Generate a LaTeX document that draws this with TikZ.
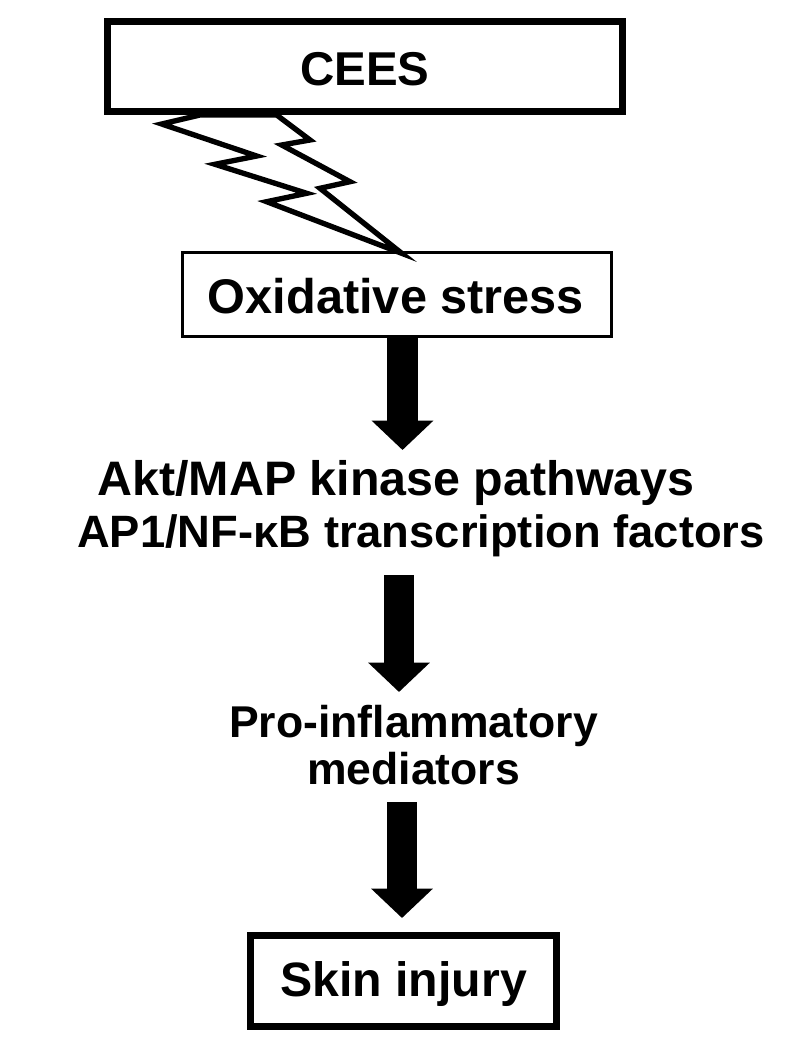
\documentclass[tikz,border=0pt]{standalone}
\usepackage{fontspec}
\setmainfont{Liberation Sans}
\usetikzlibrary{arrows.meta}
\begin{document}
\begin{tikzpicture}[x=0.75pt,y=-0.75pt,
  thickbox/.style={draw=black,line width=5.25pt,fill=white,inner sep=0pt},
  thinbox/.style={draw=black,line width=2pt,fill=white,inner sep=0pt},
  lbl/.style={inner sep=0pt,anchor=base,font=\bfseries},
  fat/.style={line width=23pt,-{Triangle[length=22pt,width=45pt]}},
  bolt/.style={draw=black,line width=4pt,fill=white,line join=miter}
]
\useasboundingbox (0,0) rectangle (787,1050);
% lightning bolt
\draw[bolt] (200,115) -- (161.7,124) -- (256.7,156) -- (215,164.3) -- (306.7,193.3)
  -- (266.7,201.7) -- (401.7,253.3) -- (320,188.3) -- (350,181.7) -- (281.7,145)
  -- (310,140) -- (276.7,115) -- cycle;
% boxes
\node[thickbox,minimum width=386.25pt,minimum height=67.5pt] (cees) at (365,66.5) {};
\node[lbl,font=\bfseries\fontsize{35.6}{40}\selectfont] (ceest) at (365,85) {CEES};
\node[thinbox,minimum width=321.75pt,minimum height=63pt,fill=none] (ox) at (397,294.5) {};
\node[lbl,font=\bfseries\fontsize{36.5}{40}\selectfont] (oxt) at (396,313) {Oxidative stress};
\node[lbl,font=\bfseries\fontsize{36.3}{40}\selectfont] (akt1) at (396,495) {Akt/MAP kinase pathways};
\node[lbl,font=\bfseries\fontsize{34}{40}\selectfont] (akt2) at (421,547) {AP1/NF-κB transcription factors};
\node[lbl,font=\bfseries\fontsize{33.4}{40}\selectfont] (pro1) at (413.5,737) {Pro-inflammatory};
\node[lbl,font=\bfseries\fontsize{33.4}{40}\selectfont] (pro2) at (413.5,784) {mediators};
\node[thickbox,minimum width=229.5pt,minimum height=68.25pt] (skin) at (403.5,981) {};
\node[lbl,font=\bfseries\fontsize{36.2}{40}\selectfont] (skint) at (403.5,996) {Skin injury};
% arrows
\coordinate (a1s) at (402.5,338);
\coordinate (a1e) at (402.5,450);
\coordinate (a2s) at (399,575);
\coordinate (a2e) at (399,692);
\coordinate (a3s) at (402,802);
\coordinate (a3e) at (402,918);
\draw[fat] (a1s) -- (a1e);
\draw[fat] (a2s) -- (a2e);
\draw[fat] (a3s) -- (a3e);
\end{tikzpicture}
\end{document}
